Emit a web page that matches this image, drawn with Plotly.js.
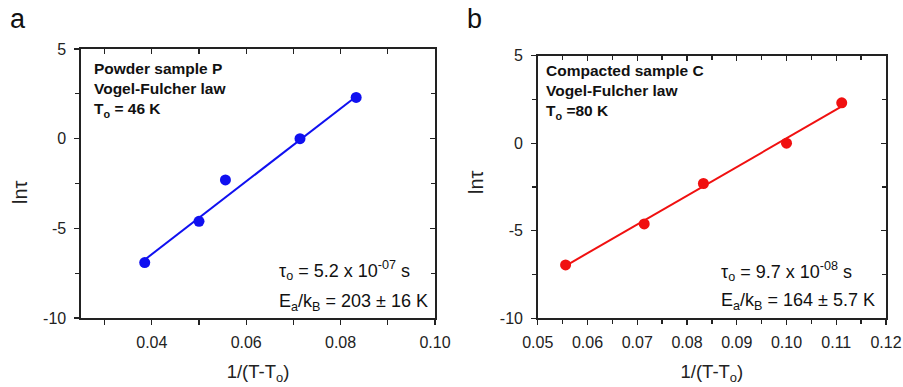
<!DOCTYPE html>
<html>
<head>
<meta charset="utf-8">
<script src="https://cdn.plot.ly/plotly-3.0.1.min.js"></script>
<style>html,body{margin:0;padding:0;background:#fff;}#chart{width:903px;height:387px;}</style>
</head>
<body>
<div id="chart"></div>
<script>
// Panel a: powder sample P
const xPowder = [0.0385, 0.0500, 0.0556, 0.0714, 0.0833];
const lnTauPowder = [-6.91, -4.61, -2.30, 0.00, 2.30];
const fitXPowder = [0.0385, 0.0833];
const fitYPowder = [-6.75, 2.35];
// Panel b: compacted sample C
const xCompact = [0.0556, 0.0714, 0.0833, 0.1000, 0.1111];
const lnTauCompact = [-6.95, -4.61, -2.30, 0.00, 2.31];
const fitXCompact = [0.0556, 0.1111];
const fitYCompact = [-7.0, 2.1];
// ticks
const yTickVals = [-10, -5, 0, 5];
const yTickText = ['-10', '-5', '0', '5'];

const FONT = 'Liberation Sans, Arial, sans-serif';
const AX = '#222';

const traces = [
  {x: fitXPowder, y: fitYPowder, xaxis: 'x', yaxis: 'y', mode: 'lines',
   line: {color: '#1010f0', width: 2}, showlegend: false, hoverinfo: 'skip'},
  {x: xPowder, y: lnTauPowder, xaxis: 'x', yaxis: 'y', mode: 'markers',
   marker: {color: '#1010f0', size: 11}, showlegend: false},
  {x: fitXCompact, y: fitYCompact, xaxis: 'x2', yaxis: 'y2', mode: 'lines',
   line: {color: '#f01010', width: 2}, showlegend: false, hoverinfo: 'skip'},
  {x: xCompact, y: lnTauCompact, xaxis: 'x2', yaxis: 'y2', mode: 'markers',
   marker: {color: '#f01010', size: 11}, showlegend: false},
  {x: [null], y: [null], xaxis: 'x3', yaxis: 'y3', showlegend: false, hoverinfo: 'skip'},
  {x: [null], y: [null], xaxis: 'x4', yaxis: 'y4', showlegend: false, hoverinfo: 'skip'}
];

const tickFont = {family: FONT, size: 16, color: '#222'};
const titleFont = {family: FONT, size: 18.5, color: '#222'};

function baseAxis(extra) {
  return Object.assign({
    showgrid: false, zeroline: false, showline: true, linecolor: AX, linewidth: 1.6,
    ticks: 'outside', ticklen: 5, tickwidth: 1.3, tickcolor: AX, tickfont: tickFont,
    fixedrange: true
  }, extra);
}

const domXa = [0.0897, 0.4817], domYa = [0.1783, 0.8734];
const domXb = [0.5955, 0.9812], domYb = [0.1775, 0.8561];

const layout = {
  width: 903, height: 387,
  margin: {l: 0, r: 0, t: 0, b: 0},
  paper_bgcolor: '#fff', plot_bgcolor: '#fff',
  showlegend: false,
  xaxis: baseAxis({domain: domXa, anchor: 'y', range: [0.025, 0.10], tick0: 0, dtick: 0.02,
    tickformat: '.2f', minor: {tick0: 0, dtick: 0.01, ticks: 'outside', ticklen: 5, tickcolor: AX},
    ticklabelstandoff: 4,
    title: {text: '1/(T-T<sub>o</sub>)', font: titleFont, standoff: 15}}),
  yaxis: baseAxis({domain: domYa, anchor: 'x', range: [-10, 5], tickmode: 'array',
    tickvals: yTickVals, ticktext: yTickText, ticklabelstandoff: 5,
    minor: {tickmode: 'linear', tick0: 0, dtick: 2.5, ticks: 'outside', ticklen: 4, tickcolor: AX}}),
  xaxis3: baseAxis({overlaying: 'x', side: 'top', anchor: 'y', range: [0.025, 0.10], tick0: 0, dtick: 0.02,
    ticks: 'inside', showticklabels: false,
    minor: {tick0: 0, dtick: 0.01, ticks: 'inside', ticklen: 5, tickcolor: AX}}),
  yaxis3: baseAxis({overlaying: 'y', side: 'right', anchor: 'x', range: [-10, 5], tick0: 0, dtick: 5,
    ticks: 'inside', showticklabels: false,
    minor: {tick0: 0, dtick: 2.5, ticks: 'inside', ticklen: 4, tickcolor: AX}}),
  xaxis2: baseAxis({domain: domXb, anchor: 'y2', range: [0.05, 0.12], tick0: 0, dtick: 0.01,
    tickformat: '.2f', minor: {tick0: 0, dtick: 0.005, ticks: 'outside', ticklen: 4, tickcolor: AX},
    ticklabelstandoff: 4,
    title: {text: '1/(T-T<sub>o</sub>)', font: titleFont, standoff: 15}}),
  yaxis2: baseAxis({domain: domYb, anchor: 'x2', range: [-10, 5], tickmode: 'array',
    tickvals: yTickVals, ticktext: yTickText, ticklabelstandoff: 5,
    minor: {tickmode: 'linear', tick0: 0, dtick: 2.5, ticks: 'outside', ticklen: 4, tickcolor: AX}}),
  xaxis4: baseAxis({overlaying: 'x2', side: 'top', anchor: 'y2', range: [0.05, 0.12], tick0: 0, dtick: 0.01,
    ticks: 'inside', showticklabels: false,
    minor: {tick0: 0, dtick: 0.005, ticks: 'inside', ticklen: 4, tickcolor: AX}}),
  yaxis4: baseAxis({overlaying: 'y2', side: 'right', anchor: 'x2', range: [-10, 5], tick0: 0, dtick: 5,
    ticks: 'inside', showticklabels: false,
    minor: {tick0: 0, dtick: 2.5, ticks: 'inside', ticklen: 4, tickcolor: AX}}),
  annotations: [
    {text: 'a', xref: 'paper', yref: 'paper', x: 8 / 903, y: 1 - 2 / 387, xanchor: 'left', yanchor: 'top',
     showarrow: false, font: {family: FONT, size: 27, color: '#111'}},
    {text: 'b', xref: 'paper', yref: 'paper', x: 465 / 903, y: 1 - 2 / 387, xanchor: 'left', yanchor: 'top',
     showarrow: false, font: {family: FONT, size: 27, color: '#111'}},
    {text: 'lnτ', xref: 'paper', yref: 'paper', x: 20 / 903, y: 1 - 192 / 387, xanchor: 'center', yanchor: 'middle',
     textangle: -90, showarrow: false, font: {family: FONT, size: 20, color: '#222'}},
    {text: 'lnτ', xref: 'paper', yref: 'paper', x: 476 / 903, y: 1 - 182 / 387, xanchor: 'center', yanchor: 'middle',
     textangle: -90, showarrow: false, font: {family: FONT, size: 20, color: '#222'}},
    {text: '<b>Powder sample P</b><br><b>Vogel-Fulcher law</b><br><b>T<sub>o</sub> = 46 K</b>',
     xref: 'x domain', yref: 'y domain', x: 0.03, y: 0.965, xanchor: 'left', yanchor: 'top', align: 'left',
     showarrow: false, font: {family: FONT, size: 15.5, color: '#111'}},
    {text: '<b>Compacted sample C</b><br><b>Vogel-Fulcher law</b><br><b>T<sub>o</sub> =80 K</b>',
     xref: 'x2 domain', yref: 'y2 domain', x: 0.018, y: 0.985, xanchor: 'left', yanchor: 'top', align: 'left',
     showarrow: false, font: {family: FONT, size: 15.5, color: '#111'}},
    {text: 'τ<sub>o</sub> = 5.2 x 10<sup>-07</sup> s',
     xref: 'x domain', yref: 'y domain', x: 0.555, y: 0.175, xanchor: 'left', yanchor: 'middle', align: 'left',
     showarrow: false, font: {family: FONT, size: 18, color: '#111'}},
    {text: 'E<sub>a</sub>/k<sub>B</sub> = 203 ± 16 K',
     xref: 'x domain', yref: 'y domain', x: 0.555, y: 0.058, xanchor: 'left', yanchor: 'middle', align: 'left',
     showarrow: false, font: {family: FONT, size: 18, color: '#111'}},
    {text: 'τ<sub>o</sub> = 9.7 x 10<sup>-08</sup> s',
     xref: 'x2 domain', yref: 'y2 domain', x: 0.52, y: 0.18, xanchor: 'left', yanchor: 'middle', align: 'left',
     showarrow: false, font: {family: FONT, size: 18, color: '#111'}},
    {text: 'E<sub>a</sub>/k<sub>B</sub> = 164 ± 5.7 K',
     xref: 'x2 domain', yref: 'y2 domain', x: 0.52, y: 0.065, xanchor: 'left', yanchor: 'middle', align: 'left',
     showarrow: false, font: {family: FONT, size: 18, color: '#111'}}
  ]
};

Plotly.newPlot('chart', traces, layout, {staticPlot: true, displayModeBar: false});
</script>
</body>
</html>
